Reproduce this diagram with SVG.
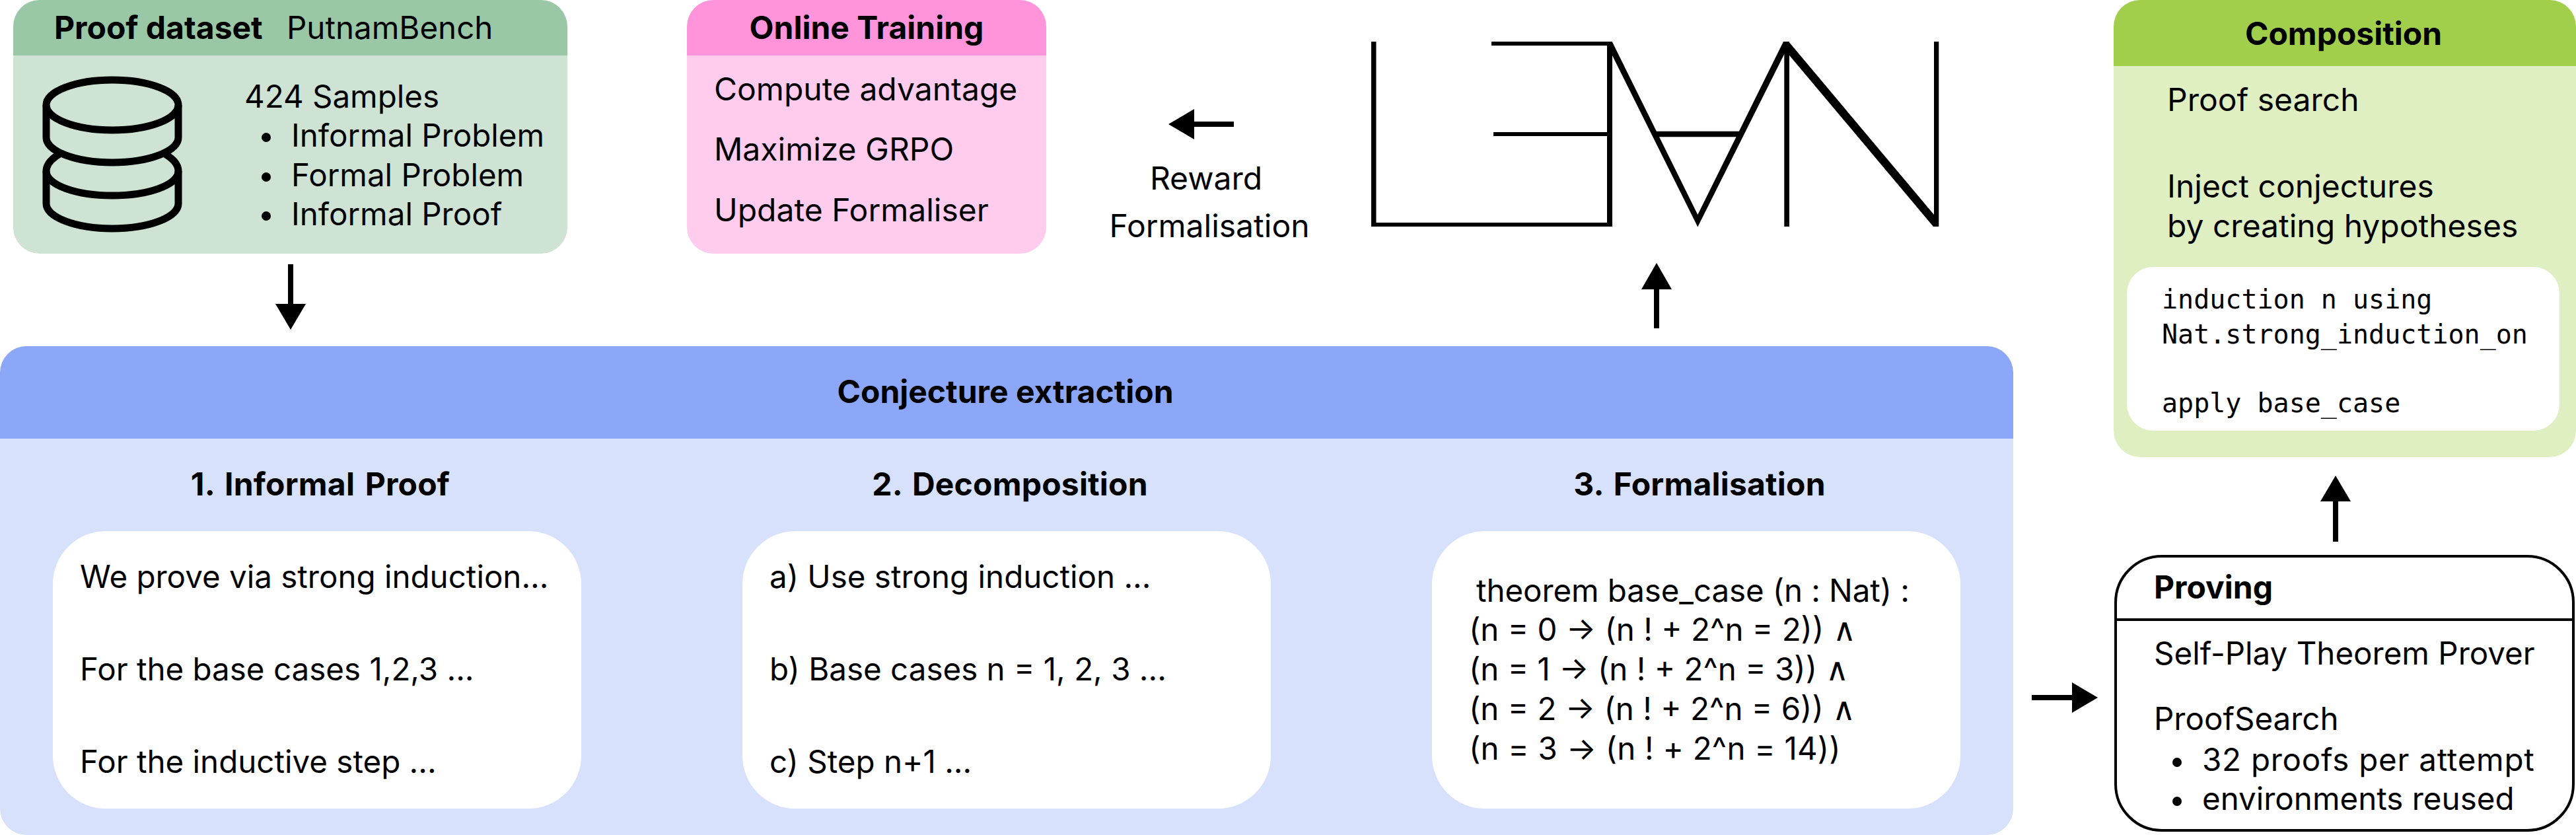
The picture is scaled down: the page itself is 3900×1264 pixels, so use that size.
<svg xmlns="http://www.w3.org/2000/svg" width="3900" height="1264" viewBox="0 0 3900 1264">
<style>
text{font-family:Inter,"Liberation Sans",sans-serif;font-size:47.5px;fill:#000}
.b,.l{font-size:48px}
.b{font-weight:700}
.s{letter-spacing:.2px;word-spacing:4px}
.m{text-anchor:middle}
.mono{font-family:"DejaVu Sans Mono","Liberation Mono",monospace;font-size:40px}
.w{fill:#fff}
.k{fill:#000}
</style>
<rect width="3900" height="1264" fill="#fff"/>
<g id="proof-dataset">
<path d="M20 84V40A40 40 0 0 1 60 0H819A40 40 0 0 1 859 40V84Z" fill="#9AC7A5"/>
<path d="M20 84H859V344A40 40 0 0 1 819 384H60A40 40 0 0 1 20 344Z" fill="#CFE3D5"/>
<text class="b" x="82" y="59">Proof dataset</text>
<text x="434" y="59">PutnamBench</text>
<g fill="none" stroke="#000" stroke-width="11">
<ellipse cx="170" cy="159" rx="100" ry="38"/>
<path d="M70 159V208C70 229 115 246 170 246S270 229 270 208V159"/>
<path d="M92 232C76 241 70 250 70 259C70 280 115 296 170 296S270 280 270 259C270 250 264 241 248 232"/>
<path d="M70 259V308C70 329 115 346 170 346S270 329 270 308V259"/>
</g>
<text x="370" y="163">424 Samples</text>
<circle cx="403" cy="208" r="7"/><text x="441" y="222">Informal Problem</text>
<circle cx="403" cy="268" r="7"/><text x="441" y="282">Formal Problem</text>
<circle cx="403" cy="327" r="7"/><text x="441" y="341">Informal Proof</text>
</g>
<g id="online-training">
<path d="M1040 84V40A40 40 0 0 1 1080 0H1544A40 40 0 0 1 1584 40V84Z" fill="#FF94DB"/>
<path d="M1040 84H1584V344A40 40 0 0 1 1544 384H1080A40 40 0 0 1 1040 344Z" fill="#FFCCEE"/>
<text class="b m" x="1312" y="59">Online Training</text>
<text class="l" x="1081" y="152">Compute advantage</text>
<text class="l" x="1081" y="243">Maximize GRPO</text>
<text class="l" x="1081" y="335">Update Formaliser</text>
</g>
<g id="reward-label">
<text class="l m" x="1826" y="287">Reward</text>
<text class="l m" x="1831" y="359">Formalisation</text>
</g>
<g id="lean-logo">
<path class="k" d="M2076 63H2083.5V337H2433V206H2261V200H2433V69H2258V63H2441V343H2076Z"/>
<path class="k" d="M2434 70L2440.7 63L2570.3 325L2700 63H2709V343H2701.3V82L2570.3 343.5Z"/>
<path class="k" d="M2506 198.7H2635V207.3H2506Z"/>
<path class="k" d="M2705 63H2708L2928 325V63H2935.3V343H2927L2705 79Z"/>
</g>
<g id="conjecture-extraction">
<path d="M0 664V564A40 40 0 0 1 40 524H3008A40 40 0 0 1 3048 564V664Z" fill="#8CA6F8"/>
<path d="M0 664H3048V1224A40 40 0 0 1 3008 1264H40A40 40 0 0 1 0 1224Z" fill="#D7E1FC"/>
<text class="b m" x="1522" y="610">Conjecture extraction</text>
<text class="b m s" x="485" y="750">1. Informal Proof</text>
<text class="b m s" x="1529" y="750">2. Decomposition</text>
<text class="b m s" x="2573" y="750">3. Formalisation</text>
<rect class="w" x="80" y="804" width="800" height="420" rx="80"/>
<rect class="w" x="1124" y="804" width="800" height="420" rx="80"/>
<rect class="w" x="2168" y="804" width="800" height="420" rx="80"/>
<text x="121" y="890">We prove via strong induction...</text>
<text x="121" y="1030">For the base cases 1,2,3 ...</text>
<text x="121" y="1170">For the inductive step ...</text>
<text x="1165" y="890">a) Use strong induction ...</text>
<text x="1165" y="1030">b) Base cases n = 1, 2, 3 ...</text>
<text x="1165" y="1170">c) Step n+1 ...</text>
<text x="2235" y="911" letter-spacing="-.1">theorem base_case (n : Nat) :</text>
<text x="2224" y="970">(n = 0 → (n ! + 2^n = 2)) ∧</text>
<text x="2224" y="1030">(n = 1 → (n ! + 2^n = 3)) ∧</text>
<text x="2224" y="1090">(n = 2 → (n ! + 2^n = 6)) ∧</text>
<text x="2224" y="1150" letter-spacing=".2">(n = 3 → (n ! + 2^n = 14))</text>
</g>
<g id="composition">
<path d="M3200 100V40A40 40 0 0 1 3240 0H3860A40 40 0 0 1 3900 40V100Z" fill="#A1CF4B"/>
<path d="M3200 100H3900V652A40 40 0 0 1 3860 692H3240A40 40 0 0 1 3200 652Z" fill="#DFEFC2"/>
<text class="b m" x="3548" y="68">Composition</text>
<text class="l" x="3281" y="168">Proof search</text>
<text class="l" x="3281" y="299">Inject conjectures</text>
<text class="l" x="3281" y="359">by creating hypotheses</text>
<rect class="w" x="3220" y="404" width="655" height="248" rx="40"/>
<text class="mono" x="3273" y="467">induction n using</text>
<text class="mono" x="3273" y="520">Nat.strong_induction_on</text>
<text class="mono" x="3273" y="624">apply base_case</text>
</g>
<g id="proving">
<rect x="3203" y="842" width="693" height="415" rx="70" fill="#fff" stroke="#000" stroke-width="4"/>
<path d="M3203 938H3896" stroke="#000" stroke-width="4"/>
<text class="b" x="3261" y="906">Proving</text>
<text x="3261" y="1006">Self-Play Theorem Prover</text>
<text x="3261" y="1105">ProofSearch</text>
<circle cx="3296" cy="1154" r="7"/><text x="3334" y="1167" letter-spacing=".75">32 proofs per attempt</text>
<circle cx="3296" cy="1213" r="7"/><text x="3334" y="1226">environments reused</text>
</g>
<g id="connectors" fill="#000">
<path d="M436 400H444V460H463L440 499L417 460H436Z"/>
<path d="M1868 184V192H1808V211L1769 188L1808 165V184Z"/>
<path d="M2504 497V438H2485L2508 398L2531 438H2512V497Z"/>
<path d="M3532 820V759H3513L3536 720L3559 759H3540V820Z"/>
<path d="M3076 1052H3137V1033L3176 1056L3137 1079V1060H3076Z"/>
</g>
</svg>
